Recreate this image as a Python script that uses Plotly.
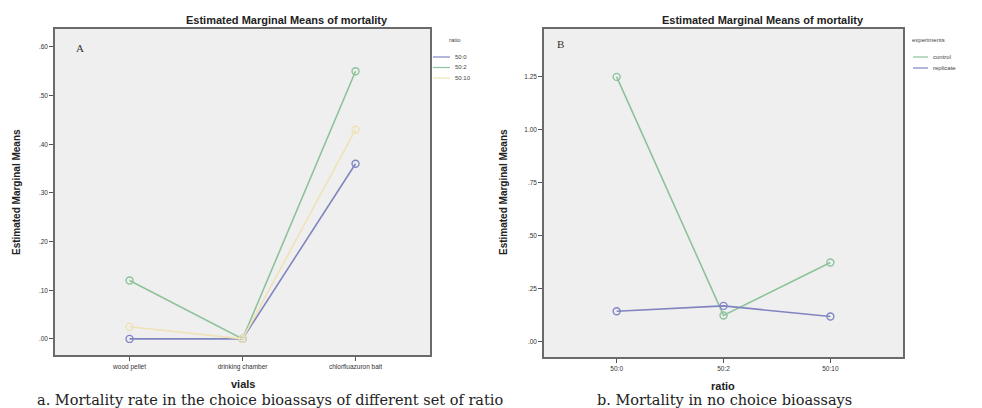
import plotly.graph_objects as go

# ---------------- data ----------------
vials = ["wood pellet", "drinking chamber", "chlorfluazuron bait"]
ratio_groups = ["50:0", "50:2", "50:10"]
mort_50_0 = [0.00, 0.00, 0.36]
mort_50_2 = [0.12, 0.00, 0.55]
mort_50_10 = [0.025, 0.00, 0.43]

ratios = ["50:0", "50:2", "50:10"]
experiments = ["control", "replicate"]
control_vals = [1.25, 0.125, 0.375]
replicate_vals = [0.145, 0.17, 0.12]

yA_ticks = [0, 0.1, 0.2, 0.3, 0.4, 0.5, 0.6]
yA_text = [".00", ".10", ".20", ".30", ".40", ".50", ".60"]
yB_ticks = [0, 0.25, 0.5, 0.75, 1.0, 1.25]
yB_text = [".00", ".25", ".50", ".75", "1.00", "1.25"]

colA = ["#8085c0", "#8dc29a", "#eee2b6"]
colB = ["#8dc29a", "#8085c0"]

fig = go.Figure()

seriesA = [mort_50_0, mort_50_2, mort_50_10]
for name, vals, c in zip(ratio_groups, seriesA, colA):
    fig.add_trace(go.Scatter(
        x=vials, y=vals, name=name, mode="lines+markers",
        line=dict(color=c, width=1.6),
        marker=dict(symbol="circle-open", size=7, color=c, line=dict(width=1.4)),
        xaxis="x", yaxis="y", showlegend=False))

seriesB = [control_vals, replicate_vals]
for name, vals, c in zip(experiments, seriesB, colB):
    fig.add_trace(go.Scatter(
        x=ratios, y=vals, name=name, mode="lines+markers",
        line=dict(color=c, width=1.6),
        marker=dict(symbol="circle-open", size=7, color=c, line=dict(width=1.4)),
        xaxis="x2", yaxis="y2", showlegend=False))

axis_common = dict(showline=True, linecolor="#6a6a6a", linewidth=1.5, mirror=True,
                   showgrid=False, zeroline=False, ticks="outside", ticklen=4,
                   tickcolor="#555", tickfont=dict(family="Liberation Sans", size=6.5, color="#333"))

fig.update_layout(
    width=982, height=408,
    margin=dict(l=0, r=0, t=0, b=0),
    paper_bgcolor="white",
    plot_bgcolor="#efefef",
    xaxis=dict(domain=[0.056, 0.438], anchor="y", range=[-0.66, 2.66], type="category", **axis_common),
    yaxis=dict(domain=[0.130, 0.929], anchor="x", range=[-0.033, 0.637],
               tickvals=yA_ticks, ticktext=yA_text, **axis_common),
    xaxis2=dict(domain=[0.554, 0.9196], anchor="y2", range=[-0.68, 2.68], type="category", **axis_common),
    yaxis2=dict(domain=[0.125, 0.929], anchor="x2", range=[-0.071, 1.476],
                tickvals=yB_ticks, ticktext=yB_text, **axis_common),
    showlegend=False,
)

ann = []
shapes = []
title_font = dict(family="Liberation Sans", size=11, color="#222")
# titles
ann.append(dict(text="<b>Estimated Marginal Means of mortality</b>", x=287, y=20, font=title_font))
ann.append(dict(text="<b>Estimated Marginal Means of mortality</b>", x=763, y=20, font=title_font))
# y axis titles
ann.append(dict(text="<b>Estimated Marginal Means</b>", x=16, y=192, textangle=-90,
                font=dict(family="Liberation Sans", size=10, color="#222")))
ann.append(dict(text="<b>Estimated Marginal Means</b>", x=503, y=192, textangle=-90,
                font=dict(family="Liberation Sans", size=10, color="#222")))
# x axis titles
ann.append(dict(text="<b>vials</b>", x=243, y=384, font=dict(family="Liberation Sans", size=11, color="#222")))
ann.append(dict(text="<b>ratio</b>", x=723, y=386, font=dict(family="Liberation Sans", size=11, color="#222")))
# panel labels
ann.append(dict(text="A", x=80, y=48, font=dict(family="Liberation Serif", size=11, color="#333")))
ann.append(dict(text="B", x=560, y=44, font=dict(family="Liberation Serif", size=11, color="#333")))
# captions
cap_font = dict(family="DejaVu Serif", size=14.5, color="#222")
ann.append(dict(text="a. Mortality rate in the choice bioassays of different set of ratio", x=35, y=400,
                xanchor="left", font=cap_font))
ann.append(dict(text="b. Mortality in no choice bioassays", x=595, y=400,
                xanchor="left", font=cap_font))

# legends (hand drawn)
leg_font = dict(family="Liberation Sans", size=6, color="#444")
ann.append(dict(text="ratio", x=447, y=40, xanchor="left", font=leg_font))
for i, (name, c) in enumerate(zip(ratio_groups, colA)):
    yy = 57 + i * 10.5
    shapes.append(dict(type="line", xref="paper", yref="paper",
                       x0=433 / 982, x1=450 / 982, y0=1 - yy / 408, y1=1 - yy / 408,
                       line=dict(color=c, width=1.2)))
    ann.append(dict(text=name, x=453, y=yy, xanchor="left", font=leg_font))

ann.append(dict(text="experiments", x=910, y=40, xanchor="left", font=leg_font))
for i, (name, c) in enumerate(zip(experiments, colB)):
    yy = 57 + i * 11
    shapes.append(dict(type="line", xref="paper", yref="paper",
                       x0=913 / 982, x1=928 / 982, y0=1 - yy / 408, y1=1 - yy / 408,
                       line=dict(color=c, width=1.2)))
    ann.append(dict(text=name, x=931, y=yy, xanchor="left", font=leg_font))

for a in ann:
    a.setdefault("xanchor", "center")
    a.update(xref="paper", yref="paper", x=a["x"] / 982, y=1 - a["y"] / 408,
             yanchor="middle", showarrow=False)
fig.update_layout(annotations=ann, shapes=shapes)

fig.write_html("out.html", config={"displayModeBar": False},
               post_script="document.body.style.margin='0';document.body.style.overflow='hidden';")
